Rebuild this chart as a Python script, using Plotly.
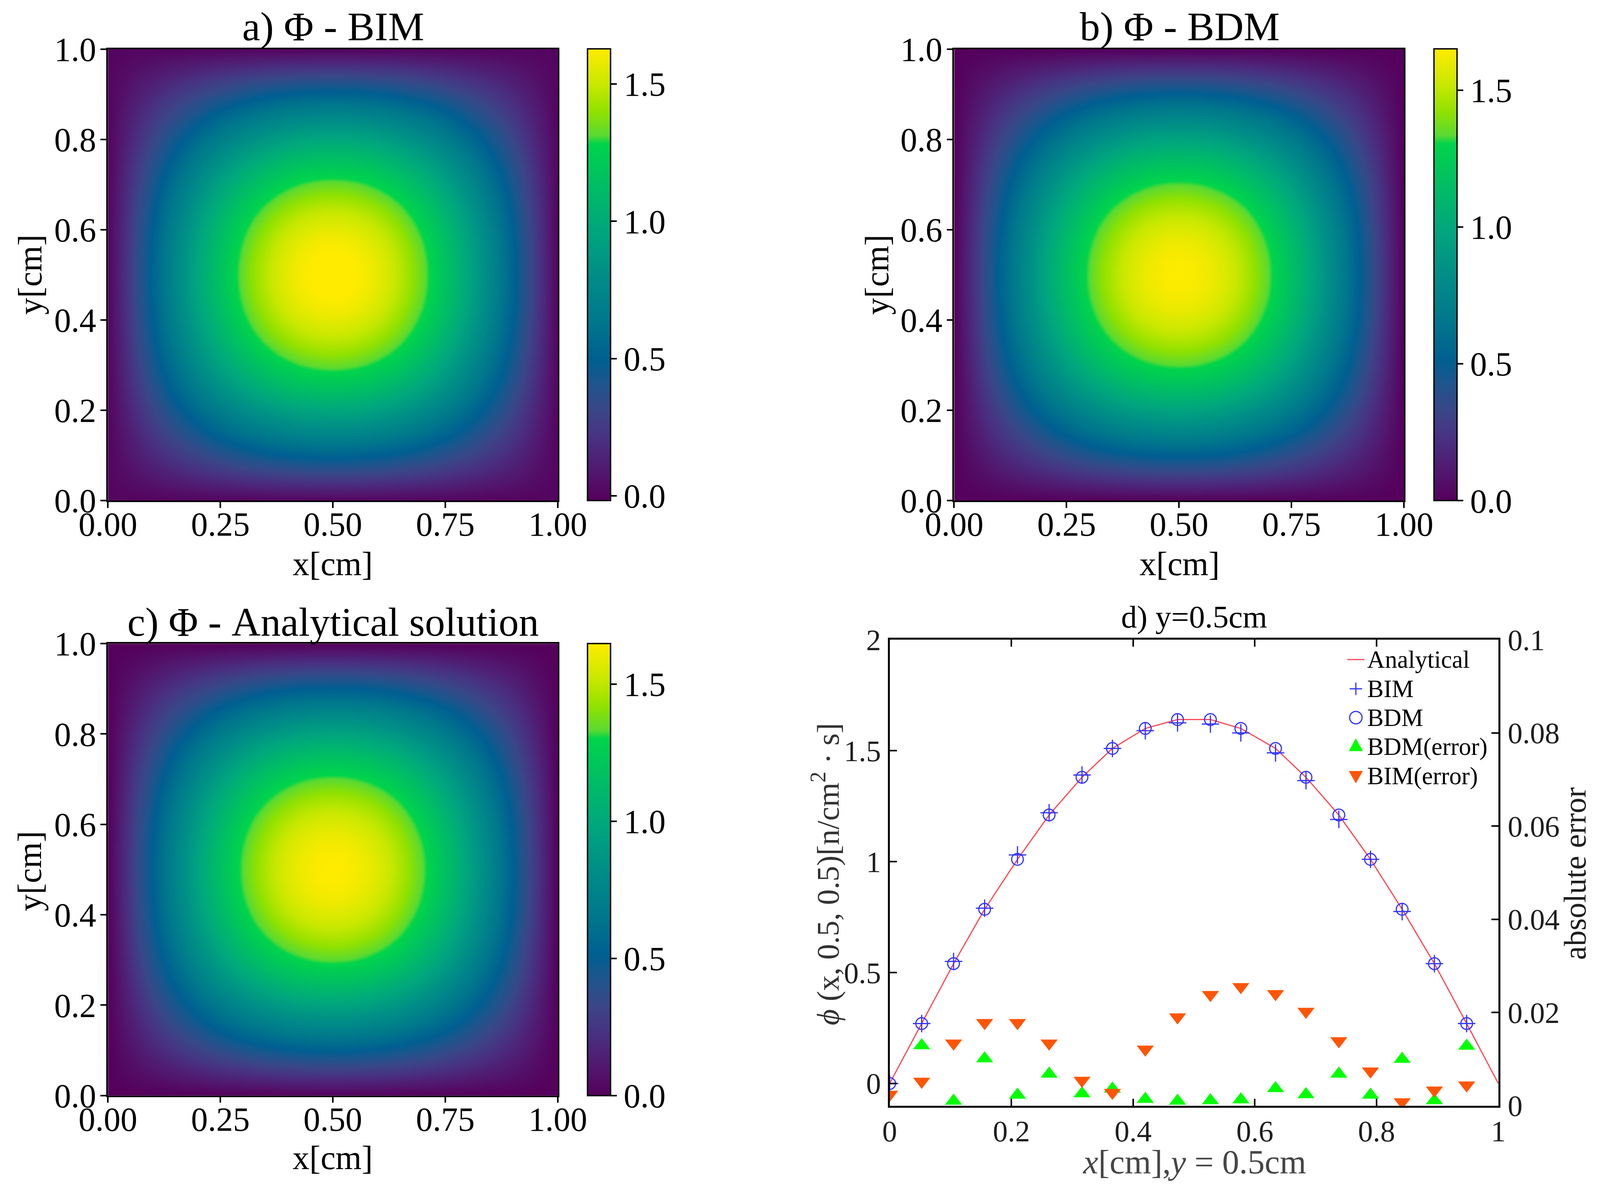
import plotly.graph_objects as go

W, H = 4122, 3066
PAGE_W, PAGE_H = 4096, 3057   # drawing area used on the browser page
FONT = "Liberation Serif"

# Heat-map values on a 0.025 cm grid, lower-left quadrant
# (rows y = 0 .. 0.5, columns x = 0 .. 0.5); the field is symmetric about the centre.
GRID = [i / 40 for i in range(41)]
PHI_Q = [
    [0]*21,
    [0,.0112,.0221,.0328,.0431,.0530,.0625,.0715,.0800,.0883,.0961,.1034,.1100,.1159,.1211,.1257,.1294,.1323,.1344,.1356,.136],
    [0,.0221,.0436,.0646,.0849,.1044,.1231,.1408,.1577,.1740,.1894,.2038,.2168,.2283,.2387,.2477,.2550,.2607,.2648,.2672,.268],
    [0,.0328,.0646,.0956,.1257,.1547,.1823,.2086,.2337,.2578,.2806,.3018,.3211,.3382,.3536,.3669,.3777,.3862,.3922,.3958,.397],
    [0,.0431,.0849,.1257,.1653,.2034,.2398,.2743,.3072,.3389,.3690,.3969,.4222,.4447,.4650,.4824,.4967,.5077,.5157,.5204,.522],
    [0,.0530,.1044,.1547,.2033,.2501,.2949,.3374,.3779,.4169,.4538,.4881,.5193,.5469,.5719,.5933,.6109,.6245,.6342,.6401,.642],
    [0,.0625,.1231,.1824,.2397,.2949,.3477,.3978,.4456,.4915,.5351,.5755,.6123,.6449,.6743,.6996,.7203,.7363,.7478,.7547,.757],
    [0,.0714,.1408,.2086,.2743,.3374,.3978,.4551,.5097,.5623,.6122,.6584,.7005,.7377,.7714,.8004,.8240,.8424,.8555,.8634,.866],
    [0,.0800,.1577,.2337,.3072,.3779,.4455,.5097,.5709,.6298,.6857,.7375,.7846,.8263,.8641,.8965,.9230,.9435,.9583,.9671,.970],
    [0,.0883,.1740,.2578,.3389,.4169,.4915,.5623,.6298,.6948,.7564,.8135,.8655,.9115,.9532,.9889,1.0181,1.0408,1.0571,1.0668,1.07],
    [0,.0961,.1894,.2806,.3690,.4539,.5351,.6122,.6857,.7564,.8235,.8857,.9424,.9925,1.0378,1.0767,1.1085,1.1332,1.1509,1.1615,1.165],
    [0,.1034,.2037,.3018,.3968,.4882,.5755,.6585,.7375,.8136,.8858,.9527,1.0136,1.0674,1.1162,1.1580,1.1922,1.2188,1.2378,1.2492,1.253],
    [0,.1100,.2167,.3211,.4222,.5193,.6123,.7005,.7846,.8655,.9423,1.0135,1.0783,1.1356,1.1874,1.2320,1.2683,1.2966,1.3169,1.3290,1.333],
    [0,.1158,.2283,.3382,.4446,.5470,.6449,.7378,.8264,.9116,.9925,1.0675,1.1357,1.1961,1.2507,1.2976,1.3359,1.3657,1.3870,1.3998,1.404],
    [0,.1211,.2387,.3536,.4649,.5719,.6743,.7714,.8641,.9532,1.0377,1.1161,1.1875,1.2506,1.3077,1.3567,1.3968,1.4279,1.4502,1.4636,1.468],
    [0,.1256,.2476,.3669,.4823,.5934,.6995,.8003,.8964,.9889,1.0766,1.1579,1.2320,1.2974,1.3567,1.4076,1.4491,1.4814,1.5046,1.5184,1.523],
    [0,.1294,.2550,.3777,.4966,.6109,.7202,.8240,.9230,1.0181,1.1084,1.1922,1.2684,1.3358,1.3968,1.4491,1.4920,1.5252,1.5490,1.5633,1.568],
    [0,.1322,.2606,.3862,.5077,.6245,.7363,.8424,.9435,1.0408,1.1332,1.2188,1.2967,1.3656,1.4280,1.4815,1.5253,1.5592,1.5836,1.5982,1.603],
    [0,.1343,.2647,.3922,.5156,.6343,.7477,.8555,.9582,1.0571,1.1508,1.2378,1.3169,1.3869,1.4502,1.5046,1.5490,1.5836,1.6083,1.6231,1.628],
    [0,.1355,.2672,.3958,.5203,.6401,.7546,.8634,.9671,1.0668,1.1614,1.2492,1.3290,1.3997,1.4636,1.5184,1.5633,1.5981,1.6231,1.6380,1.643],
    [0,.1360,.268,.397,.522,.642,.757,.866,.97,1.07,1.165,1.253,1.333,1.404,1.468,1.523,1.568,1.603,1.628,1.643,1.648],
]
CB_RANGES = {"a": (-0.018, 1.628), "b": (0.0, 1.651), "c": (0.0, 1.648)}

# Line plot values
XS = [0, .0526, .105, .156, .21, .262, .316, .366, .42, .473, .527, .577, .634, .684, .738, .79, .842, .895, .948]
ANALYTICAL = [0, .27, .54, .785, 1.01, 1.21, 1.38, 1.51, 1.60, 1.64, 1.64, 1.60, 1.51, 1.38, 1.21, 1.01, .785, .54, .27]
BIM = [0, .27, .55, .79, 1.03, 1.22, 1.39, 1.51, 1.59, 1.625, 1.62, 1.58, 1.49, 1.365, 1.19, 1.01, .775, .54, .27]
BDM = [0, .27, .54, .785, 1.01, 1.21, 1.38, 1.51, 1.60, 1.64, 1.64, 1.60, 1.51, 1.38, 1.21, 1.01, .785, .54, .27]
BDM_ERR = [None, .0129, .001, .0101, .0023, .0068, .0026, .0036, .0014, .001, .0011, .0013, .0037, .0024, .0068, .0023, .01, .0011, .0128]
BIM_ERR = [.0024, .0052, .0134, .0178, .0178, .0134, .0054, .0028, .0121, .019, .0238, .0255, .024, .0202, .0139, .0074, .0008, .0033, .0044]
LEGEND_TEXT = ["Analytical", "BIM", "BDM", "BDM(error)", "BIM(error)"]

RED, BLUE, GREEN, ORANGE = "rgb(255,70,85)", "rgb(50,50,255)", "rgb(0,255,0)", "rgb(255,85,5)"
COLORSCALE = [
    [0.0, "rgb(85,0,92)"], [0.06, "rgb(82,22,110)"], [0.14, "rgb(72,50,130)"],
    [0.2, "rgb(58,70,135)"], [0.26, "rgb(30,85,140)"], [0.31, "rgb(0,95,145)"],
    [0.4, "rgb(0,120,140)"], [0.5, "rgb(0,142,135)"], [0.6, "rgb(0,167,125)"],
    [0.7, "rgb(0,190,100)"], [0.79, "rgb(0,212,75)"], [0.808, "rgb(90,218,50)"],
    [0.86, "rgb(145,225,0)"], [0.92, "rgb(200,232,0)"], [1.0, "rgb(255,235,0)"],
]

TICKS_HM_X = [0, .25, .5, .75, 1]
TICKS_HM_X_TXT = ["0.00", "0.25", "0.50", "0.75", "1.00"]
TICKS_HM_Y = [0, .2, .4, .6, .8, 1]
TICKS_HM_Y_TXT = ["0.0", "0.2", "0.4", "0.6", "0.8", "1.0"]
TICKS_CB = [0, .5, 1, 1.5]
TICKS_CB_TXT = ["0.0", "0.5", "1.0", "1.5"]
TICKS_D_X = [0, .2, .4, .6, .8, 1]
TICKS_D_X_TXT = ["0", "0.2", "0.4", "0.6", "0.8", "1"]
TICKS_D_L = [0, .5, 1, 1.5, 2]
TICKS_D_L_TXT = ["0", "0.5", "1", "1.5", "2"]
TICKS_D_R = [0, .02, .04, .06, .08, .1]
TICKS_D_R_TXT = ["0", "0.02", "0.04", "0.06", "0.08", "0.1"]


def full(q):
    rows = [r + r[-2::-1] for r in q]
    return rows + rows[-2::-1]


def dom_x(a, b):
    return [a / W, b / W]


def dom_y(top, bottom):
    return [1 - bottom / H, 1 - top / H]


def hm_axes(xd, yd, anchor_x, anchor_y):
    common = dict(showline=True, linecolor="black", linewidth=3.5, mirror=True, ticks="outside",
                  ticklen=15, tickwidth=3.5, tickcolor="black", showgrid=False, zeroline=False,
                  tickfont=dict(family=FONT, size=86, color="black"), range=[0, 1], automargin=False)
    xa = dict(common, domain=xd, anchor=anchor_y, tickmode="array", tickvals=TICKS_HM_X, ticktext=TICKS_HM_X_TXT, ticklabelstandoff=-32)
    ya = dict(common, domain=yd, anchor=anchor_x, tickmode="array", tickvals=TICKS_HM_Y, ticktext=TICKS_HM_Y_TXT, ticklabelstandoff=-6)
    return xa, ya


def heat(q, rng, xa, ya, cbx, yd):
    return go.Heatmap(
        x=GRID, y=GRID, z=full(q), zmin=rng[0], zmax=rng[1], zsmooth="best", colorscale=COLORSCALE,
        xaxis=xa, yaxis=ya, hoverinfo="skip",
        colorbar=dict(x=cbx / W, xanchor="left", xpad=0, ypad=0, thickness=59, thicknessmode="pixels",
                      lenmode="fraction", len=yd[1] - yd[0], y=(yd[0] + yd[1]) / 2, yanchor="middle",
                      outlinecolor="black", outlinewidth=3.5, ticks="outside", ticklen=15, tickwidth=3.5,
                      tickcolor="black", tickmode="array", tickvals=TICKS_CB, ticktext=TICKS_CB_TXT,
                      tickfont=dict(family=FONT, size=86, color="black"), borderwidth=0),
    )


dA = (dom_x(278, 1437), dom_y(126, 1285))
dB = (dom_x(2458, 3617), dom_y(126, 1285))
dC = (dom_x(278, 1437), dom_y(1652, 2812))
dD = (dom_x(2292, 3860), dom_y(1642, 2838))

fig = go.Figure()
fig.add_trace(heat(PHI_Q, CB_RANGES["a"], "x", "y", 1514, dA[1]))
fig.add_trace(heat(PHI_Q, CB_RANGES["b"], "x2", "y2", 3694, dB[1]))
fig.add_trace(heat(PHI_Q, CB_RANGES["c"], "x3", "y3", 1514, dC[1]))

fig.add_trace(go.Scatter(x=XS + [1.0], y=ANALYTICAL + [0], mode="lines", name="Analytical", xaxis="x4", yaxis="y4",
                         line=dict(color=RED, width=3)))
fig.add_trace(go.Scatter(x=XS, y=BIM, mode="markers", name="BIM", xaxis="x4", yaxis="y4",
                         marker=dict(symbol="cross-thin", size=32, line=dict(color=BLUE, width=3))))
fig.add_trace(go.Scatter(x=XS, y=BDM, mode="markers", name="BDM", xaxis="x4", yaxis="y4",
                         marker=dict(symbol="circle-open", size=30, color=BLUE, line=dict(color=BLUE, width=3))))
fig.add_trace(go.Scatter(x=XS, y=BDM_ERR, mode="markers", name="BDM(error)", xaxis="x4", yaxis="y5",
                         marker=dict(symbol="triangle-up", size=38, color=GREEN, line=dict(width=0))))
fig.add_trace(go.Scatter(x=XS, y=BIM_ERR, mode="markers", name="BIM(error)", xaxis="x4", yaxis="y5",
                         marker=dict(symbol="triangle-down", size=38, color=ORANGE, line=dict(width=0))))

xa1, ya1 = hm_axes(*dA, "x", "y")
xa2, ya2 = hm_axes(*dB, "x2", "y2")
xa3, ya3 = hm_axes(*dC, "x3", "y3")

d_common = dict(showline=True, linecolor="black", linewidth=5, ticks="inside", ticklen=18, tickwidth=4,
                tickcolor="black", showgrid=False, zeroline=False, automargin=False,
                tickfont=dict(family=FONT, size=76, color="rgb(30,30,30)"), tickmode="array")
xa4 = dict(d_common, domain=dD[0], anchor="y4", range=[0, 1], mirror="ticks", tickvals=TICKS_D_X, ticktext=TICKS_D_X_TXT, ticklabelstandoff=-5)
ya4 = dict(d_common, domain=dD[1], anchor="x4", range=[-0.1, 2], tickvals=TICKS_D_L, ticktext=TICKS_D_L_TXT, ticklabelstandoff=2)
ya5 = dict(d_common, domain=dD[1], anchor="x4", overlaying="y4", side="right", range=[0, 0.1], tickvals=TICKS_D_R, ticktext=TICKS_D_R_TXT, ticklabelstandoff=4)


def px(v):
    return v / W


def py(v):
    return 1 - v / H


def note(text, x, y, size, color="black", angle=0, anchor="center"):
    return dict(text=text, x=px(x), y=py(y), xref="paper", yref="paper", xanchor=anchor, yanchor="middle",
                showarrow=False, textangle=angle, font=dict(family=FONT, size=size, color=color))


annotations = [
    note("a) Φ - BIM", 858, 68, 104),
    note("b) Φ - BDM", 3039, 68, 104),
    note("c) Φ - Analytical solution", 858, 1597, 103),
    note("d) y=0.5cm", 3076, 1584, 81),
    note("x[cm]", 857, 1447, 86),
    note("x[cm]", 3039, 1447, 86),
    note("x[cm]", 857, 2972, 86),
    note("y[cm]", 77, 705, 86, angle=-90),
    note("y[cm]", 2259, 705, 86, angle=-90),
    note("y[cm]", 77, 2236, 86, angle=-90),
    note("<i>x</i>[cm],<i>y</i> = 0.5cm", 3077, 2982, 87, color="rgb(70,70,70)"),
    note("<i>ϕ</i> (x, 0.5, 0.5)[n/cm<sup>2</sup> · s]", 2128, 2244, 80, color="rgb(50,50,50)", angle=-90),
    note("absolute error", 4058, 2242, 80, color="rgb(30,30,30)", angle=-90),
]
LEGEND_ROWS = [1693, 1768, 1842, 1917, 1992]
for label, row in zip(LEGEND_TEXT, LEGEND_ROWS):
    annotations.append(note(label, 3520, row, 63, anchor="left"))

KX = 3493
shapes = [
    dict(type="line", xref="paper", yref="paper", x0=px(3471), x1=px(3515), y0=py(1693), y1=py(1693), line=dict(color=RED, width=3)),
    dict(type="line", xref="paper", yref="paper", x0=px(KX - 16), x1=px(KX + 16), y0=py(1768), y1=py(1768), line=dict(color=BLUE, width=3)),
    dict(type="line", xref="paper", yref="paper", x0=px(KX), x1=px(KX), y0=py(1752), y1=py(1784), line=dict(color=BLUE, width=3)),
    dict(type="circle", xref="paper", yref="paper", x0=px(KX - 16), x1=px(KX + 16), y0=py(1858), y1=py(1826), line=dict(color=BLUE, width=3)),
    dict(type="path", xref="paper", yref="paper", fillcolor=GREEN, line=dict(width=0),
         path=f"M {px(KX - 18)} {py(1928)} L {px(KX + 18)} {py(1928)} L {px(KX)} {py(1895)} Z"),
    dict(type="path", xref="paper", yref="paper", fillcolor=ORANGE, line=dict(width=0),
         path=f"M {px(KX - 18)} {py(1979)} L {px(KX + 18)} {py(1979)} L {px(KX)} {py(2011)} Z"),
]

fig.update_layout(
    width=PAGE_W, height=PAGE_H, margin=dict(l=0, r=0, t=0, b=0, pad=0, autoexpand=False),
    paper_bgcolor="white", plot_bgcolor="white",
    xaxis=xa1, yaxis=ya1, xaxis2=xa2, yaxis2=ya2, xaxis3=xa3, yaxis3=ya3,
    xaxis4=xa4, yaxis4=ya4, yaxis5=ya5,
    annotations=annotations, shapes=shapes, showlegend=False,
)

fig.write_html("out.html", config={"displayModeBar": False},
               post_script="document.body.style.margin='0';document.documentElement.style.overflow='hidden';")
